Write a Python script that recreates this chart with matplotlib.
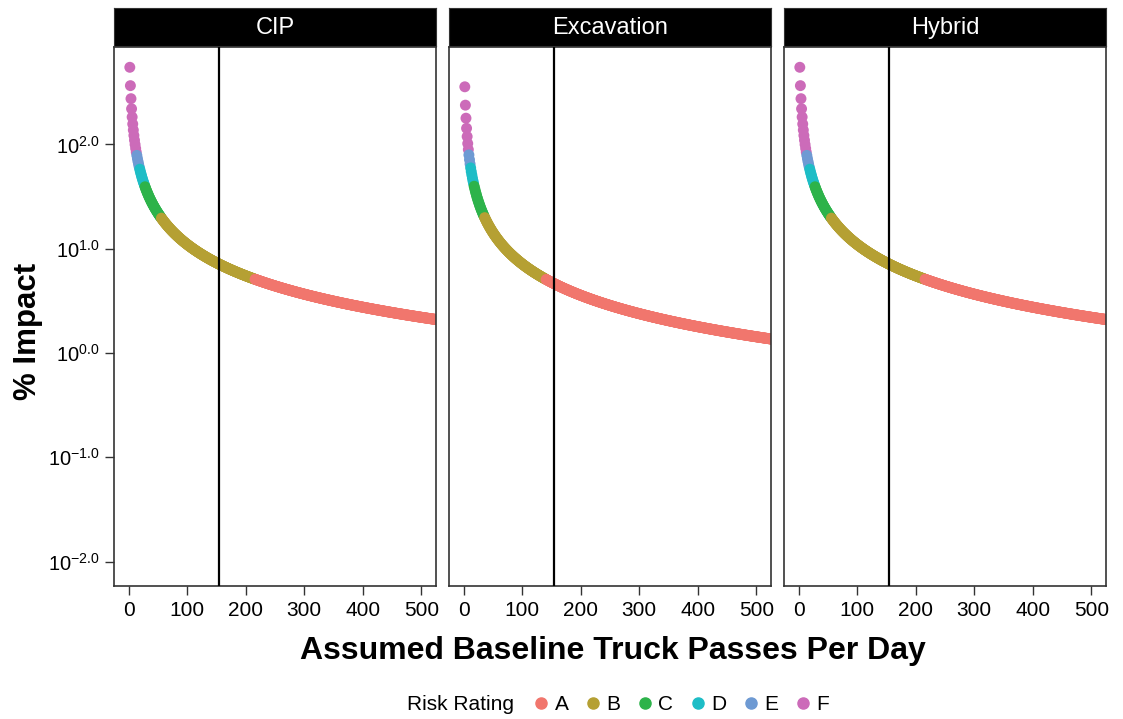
import numpy as np
import matplotlib.pyplot as plt
from matplotlib.lines import Line2D

plt.rcParams['font.family'] = ['Liberation Sans', 'DejaVu Sans']
plt.rcParams['mathtext.fontset'] = 'custom'
plt.rcParams['mathtext.rm'] = 'Liberation Sans'
plt.rcParams['mathtext.it'] = 'Liberation Sans'

# data
scenarios = ['CIP', 'Excavation', 'Hybrid']
added_trucks = [11.0, 7.15, 11.0]          # extra truck passes per day per scenario
baseline_start, baseline_stop = 2, 545     # baseline truck passes per day (one point each)
rating_labels = ['A', 'B', 'C', 'D', 'E', 'F']
rating_breaks = [5.1, 20, 40, 60, 80]      # % impact limits between ratings
rating_colors = ['#F1766D', '#B5A033', '#2DB34A', '#1DBDC6', '#6E9AD3', '#CC6BB9']
threshold_line = 155
ytick_exp = [-2, -1, 0, 1, 2]
xticks = [0, 100, 200, 300, 400, 500]

baseline = np.arange(baseline_start, baseline_stop + 1)

fig = plt.figure(figsize=(11.23, 7.19), dpi=100)

W, H = 1123, 719
panel_left = [114, 449, 784]
panel_w = 322
top, bottom = 47, 586
strip_top = 8

for i, name in enumerate(scenarios):
    ax = fig.add_axes([panel_left[i] / W, 1 - bottom / H, panel_w / W, (bottom - top) / H])
    impact = 100 * added_trucks[i] / baseline
    rating = np.digitize(impact, rating_breaks)
    cols = [rating_colors[r] for r in rating]
    ax.scatter(baseline, impact, c=cols, s=62, edgecolors='none', zorder=2)
    ax.axvline(threshold_line, color='black', lw=1.6, zorder=3)
    ax.set_yscale('log')
    ax.set_ylim(10 ** -2.235, 10 ** 2.935)
    ax.set_xlim(-25, 525)
    ax.set_xticks(xticks)
    ax.set_xticklabels([str(t) for t in xticks], fontsize=15)
    ax.minorticks_off()
    ax.set_yticks([10.0 ** e for e in ytick_exp])
    if i == 0:
        ax.set_yticklabels([r'$10^{%.1f}$' % e for e in ytick_exp], fontsize=14.5)
    else:
        ax.tick_params(axis='y', left=False, labelleft=False)
    ax.tick_params(length=6.5, width=1, color='#333333', pad=4)
    for sp in ax.spines.values():
        sp.set_color('#333333')
        sp.set_linewidth(1.2)

    # facet strip
    sax = fig.add_axes([panel_left[i] / W, 1 - (top - 1) / H, panel_w / W, (top - 1 - strip_top) / H])
    sax.set_facecolor('black')
    sax.set_xticks([])
    sax.set_yticks([])
    for sp in sax.spines.values():
        sp.set_color('#333333')
    sax.text(0.5, 0.48, name, color='white', fontsize=17, ha='center', va='center',
             transform=sax.transAxes)

fig.text(613 / W, 1 - 651 / H, 'Assumed Baseline Truck Passes Per Day', fontsize=23,
         fontweight='bold', ha='center', va='center')
fig.text(28 / W, 1 - 331 / H, '% Impact', fontsize=22.5, fontweight='bold',
         rotation=90, ha='center', va='center')

handles = [Line2D([], [], marker='o', ls='none', color=c, markersize=8) for c in rating_colors]
fig.text(407 / W, 1 - 705 / H, 'Risk Rating', fontsize=15, ha='left', va='center')
fig.legend(handles, rating_labels, loc='center', bbox_to_anchor=(682 / W, 1 - 705 / H),
           ncol=6, frameon=False, fontsize=15, handlelength=0.6, handletextpad=0.35,
           columnspacing=0.87, borderpad=0)

fig.savefig('out.png', dpi=100)
